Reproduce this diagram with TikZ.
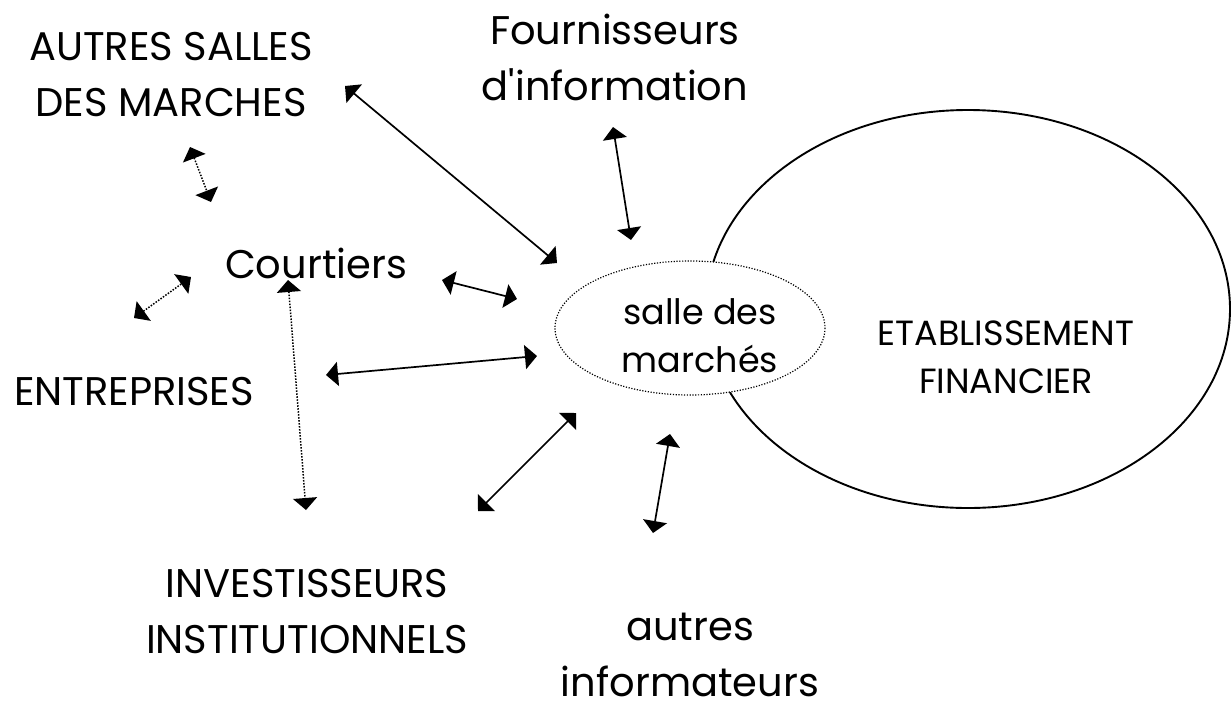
\documentclass[tikz,border=0pt]{standalone}
\usepackage{fontspec}
\setmainfont{Poppins}
\usetikzlibrary{arrows.meta}
\tikzset{
  lbl/.style={inner sep=0pt, align=center, font=\fontsize{40}{56}\selectfont},
  midlbl/.style={inner sep=0pt, align=center, font=\fontsize{35}{48}\selectfont},
  bigell/.style={draw, line width=1.9pt},
  smallell/.style={draw, fill=white, line width=1.2pt, dash pattern=on 1.2pt off 1.6pt},
  dbl/.style={{Triangle[length=12pt,width=24pt]}-{Triangle[length=12pt,width=24pt]}, line width=1.7pt},
  dbldot/.style={{Triangle[length=12pt,width=24pt]}-{Triangle[length=12pt,width=24pt]}, line width=1.5pt, dash pattern=on 1.5pt off 1.5pt},
}
\begin{document}
\begin{tikzpicture}[x=1pt,y=-1pt]
\useasboundingbox (0,0) rectangle (1231,705);
% ellipses
\draw[bigell] (968,309) ellipse [x radius=262, y radius=199];
\draw[smallell] (690,328) ellipse [x radius=135, y radius=67];
% labels
\node[lbl] (autres) at (171,75) {AUTRES SALLES\\DES MARCHES};
\node[lbl] (fourn) at (615,57.5) {Fournisseurs\\d\textquotesingle information};
\node[lbl] (court) at (316,263.5) {Courtiers};
\node[lbl] (entr) at (134,392) {ENTREPRISES};
\node[lbl] (inv) at (307,611.5) {INVESTISSEURS\\INSTITUTIONNELS};
\node[lbl] (info) at (690,655) {autres\\informateurs};
\node[midlbl] (salle) at (700,336) {salle des\\marchés};
\node[midlbl] (etab) at (1006,357) {ETABLISSEMENT\\FINANCIER};
% arrow end points
\coordinate (a1) at (345,86);   \coordinate (a2) at (557,263);
\coordinate (f1) at (613,127);  \coordinate (f2) at (631,240);
\coordinate (d1) at (190,147);  \coordinate (d2) at (211,202);
\coordinate (c1) at (442,280);  \coordinate (c2) at (517,299);
\coordinate (e1) at (134,318);  \coordinate (e2) at (191,277);
\coordinate (v1) at (288,280);  \coordinate (v2) at (306,510);
\coordinate (n1) at (326,375);  \coordinate (n2) at (537,356);
\coordinate (i1) at (478,511);  \coordinate (i2) at (576,413);
\coordinate (o1) at (670,434);  \coordinate (o2) at (653,533);
% arrows
\draw[dbl] (a1) -- (a2);
\draw[dbl] (f1) -- (f2);
\draw[dbldot] (d1) -- (d2);
\draw[dbl] (c1) -- (c2);
\draw[dbldot] (e1) -- (e2);
\draw[dbldot] (v1) -- (v2);
\draw[dbl] (n1) -- (n2);
\draw[dbl] (i1) -- (i2);
\draw[dbl] (o1) -- (o2);
\end{tikzpicture}
\end{document}
